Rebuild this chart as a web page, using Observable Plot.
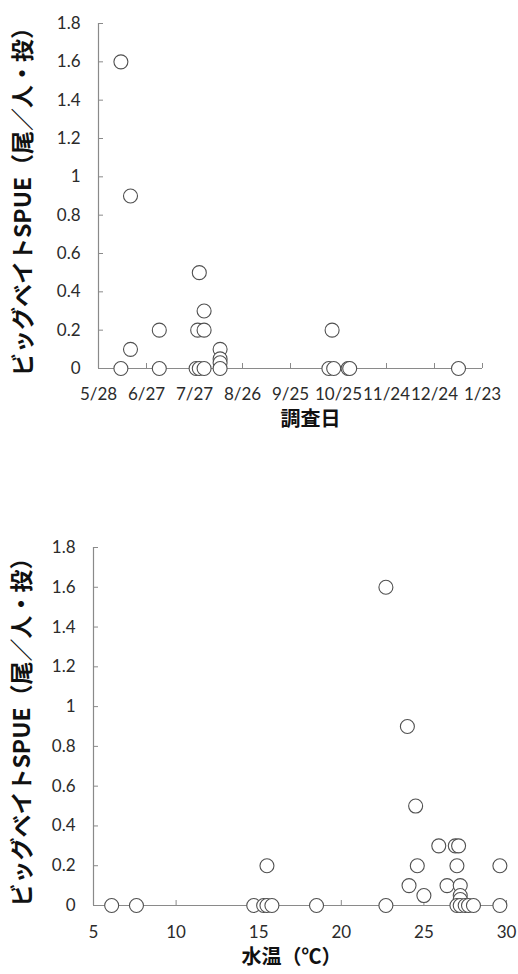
<!DOCTYPE html>
<html>
<head>
<meta charset="utf-8">
<script src="https://cdn.jsdelivr.net/npm/d3@7"></script>
<script src="https://cdn.jsdelivr.net/npm/@observablehq/plot@0.6"></script>
<style>
  body { margin: 0; background: white; width: 518px; }
  #chart svg { display: block; }
</style>
</head>
<body>
<div id="chart"></div>
<script>
// ---- Data ----
const yTicks = [0, 0.2, 0.4, 0.6, 0.8, 1, 1.2, 1.4, 1.6, 1.8];
const yTitle = "ビッグベイトSPUE（尾／人・投）";

// Chart 1: survey date vs SPUE
const dateTicks = ["2015-05-28","2015-06-27","2015-07-27","2015-08-26","2015-09-25","2015-10-25","2015-11-24","2015-12-24","2016-01-23"];
const surveyDates = ["2015-06-11","2015-06-11","2015-06-17","2015-06-17","2015-07-05","2015-07-05","2015-07-28","2015-07-29","2015-07-30","2015-07-30","2015-08-02","2015-08-02","2015-08-02","2015-08-12","2015-08-12","2015-08-12","2015-08-12","2015-10-19","2015-10-21","2015-10-22","2015-10-31","2015-11-01","2016-01-08"];
const surveySpue = [1.6,0,0.9,0.1,0.2,0,0,0.2,0.5,0,0.3,0.2,0,0.1,0.05,0.03,0,0,0.2,0,0,0,0];
const xTitle1 = "調査日";

// Chart 2: water temperature vs SPUE
const tempTicks = [5, 10, 15, 20, 25, 30];
const waterTemp = [22.7,24.0,24.5,25.9,26.9,27.1,15.5,24.6,27.0,29.6,24.1,26.4,27.2,25.0,27.2,27.2,6.1,7.6,14.7,15.3,15.5,15.8,18.5,22.7,27.0,27.2,27.5,27.7,28.0,29.6];
const tempSpue = [1.6,0.9,0.5,0.3,0.3,0.3,0.2,0.2,0.2,0.2,0.1,0.1,0.1,0.05,0.05,0.03,0,0,0,0,0,0,0,0,0,0,0,0,0,0];
const xTitle2 = "水温（℃）";

// ---- Build ----
const parse = d3.utcParse("%Y-%m-%d");
const fmtDate = d3.utcFormat("%-m/%-d");
const data1 = surveyDates.map((d, i) => ({date: parse(d), spue: surveySpue[i]}));
const data2 = waterTemp.map((t, i) => ({temp: t, spue: tempSpue[i]}));
const dateTickVals = dateTicks.map(parse);

const axisColor = "#8a8a8a";
const dotStroke = "#505050";
const cjk = "'Noto Sans CJK JP', sans-serif";
const style = {fontFamily: "Lato, sans-serif", fontSize: "17px", color: "#2b2b2b", background: "white", overflow: "visible"};

const plot1 = Plot.plot({
  width: 518, height: 445,
  marginLeft: 98, marginRight: 36, marginTop: 23, marginBottom: 77,
  style,
  x: {type: "utc", domain: [dateTickVals[0], dateTickVals[dateTickVals.length - 1]]},
  y: {domain: [0, 1.8]},
  marks: [
    Plot.ruleY([0], {stroke: axisColor, strokeWidth: 1.2}),
    Plot.ruleX([dateTickVals[0]], {stroke: axisColor, strokeWidth: 1.2}),
    Plot.axisY({ticks: yTicks, tickSize: -5, tickPadding: 23, stroke: axisColor, label: null, tickFormat: d => String(d)}),
    Plot.axisX({ticks: dateTickVals, tickSize: -5, tickPadding: 24, stroke: axisColor, label: null, tickFormat: fmtDate}),
    Plot.dot(data1, {x: "date", y: "spue", r: 7, fill: "white", stroke: dotStroke, strokeWidth: 1.1}),
    Plot.text([yTitle], {text: d => d, frameAnchor: "left", textAnchor: "middle", dx: -74.5, rotate: -90, fontFamily: cjk, fontWeight: "bold", fontSize: 23, fill: "#111"}),
    Plot.text([xTitle1], {text: d => d, frameAnchor: "bottom", textAnchor: "middle", dx: 20, dy: 57, fontFamily: cjk, fontWeight: "bold", fontSize: 20, fill: "#111"})
  ]
});

const plot2 = Plot.plot({
  width: 518, height: 529,
  marginLeft: 93, marginRight: 12, marginTop: 102, marginBottom: 69,
  style,
  x: {domain: [5, 30]},
  y: {domain: [0, 1.8]},
  marks: [
    Plot.ruleY([0], {stroke: axisColor, strokeWidth: 1.2}),
    Plot.ruleX([5], {stroke: axisColor, strokeWidth: 1.2}),
    Plot.axisY({ticks: yTicks, tickSize: -5, tickPadding: 23, stroke: axisColor, label: null, tickFormat: d => String(d)}),
    Plot.axisX({ticks: tempTicks, tickSize: -5, tickPadding: 25, stroke: axisColor, label: null, tickFormat: d => String(d)}),
    Plot.dot(data2, {x: "temp", y: "spue", r: 7, fill: "white", stroke: dotStroke, strokeWidth: 1.1}),
    Plot.text([yTitle], {text: d => d, frameAnchor: "left", textAnchor: "middle", dx: -71, rotate: -90, fontFamily: cjk, fontWeight: "bold", fontSize: 23, fill: "#111"}),
    Plot.text([xTitle2], {text: d => d, frameAnchor: "bottom", textAnchor: "middle", dx: -8.5, dy: 58, fontFamily: cjk, fontWeight: "bold", fontSize: 20, fill: "#111"})
  ]
});

const chart = document.getElementById("chart");
chart.appendChild(plot1);
chart.appendChild(plot2);
</script>
</body>
</html>
